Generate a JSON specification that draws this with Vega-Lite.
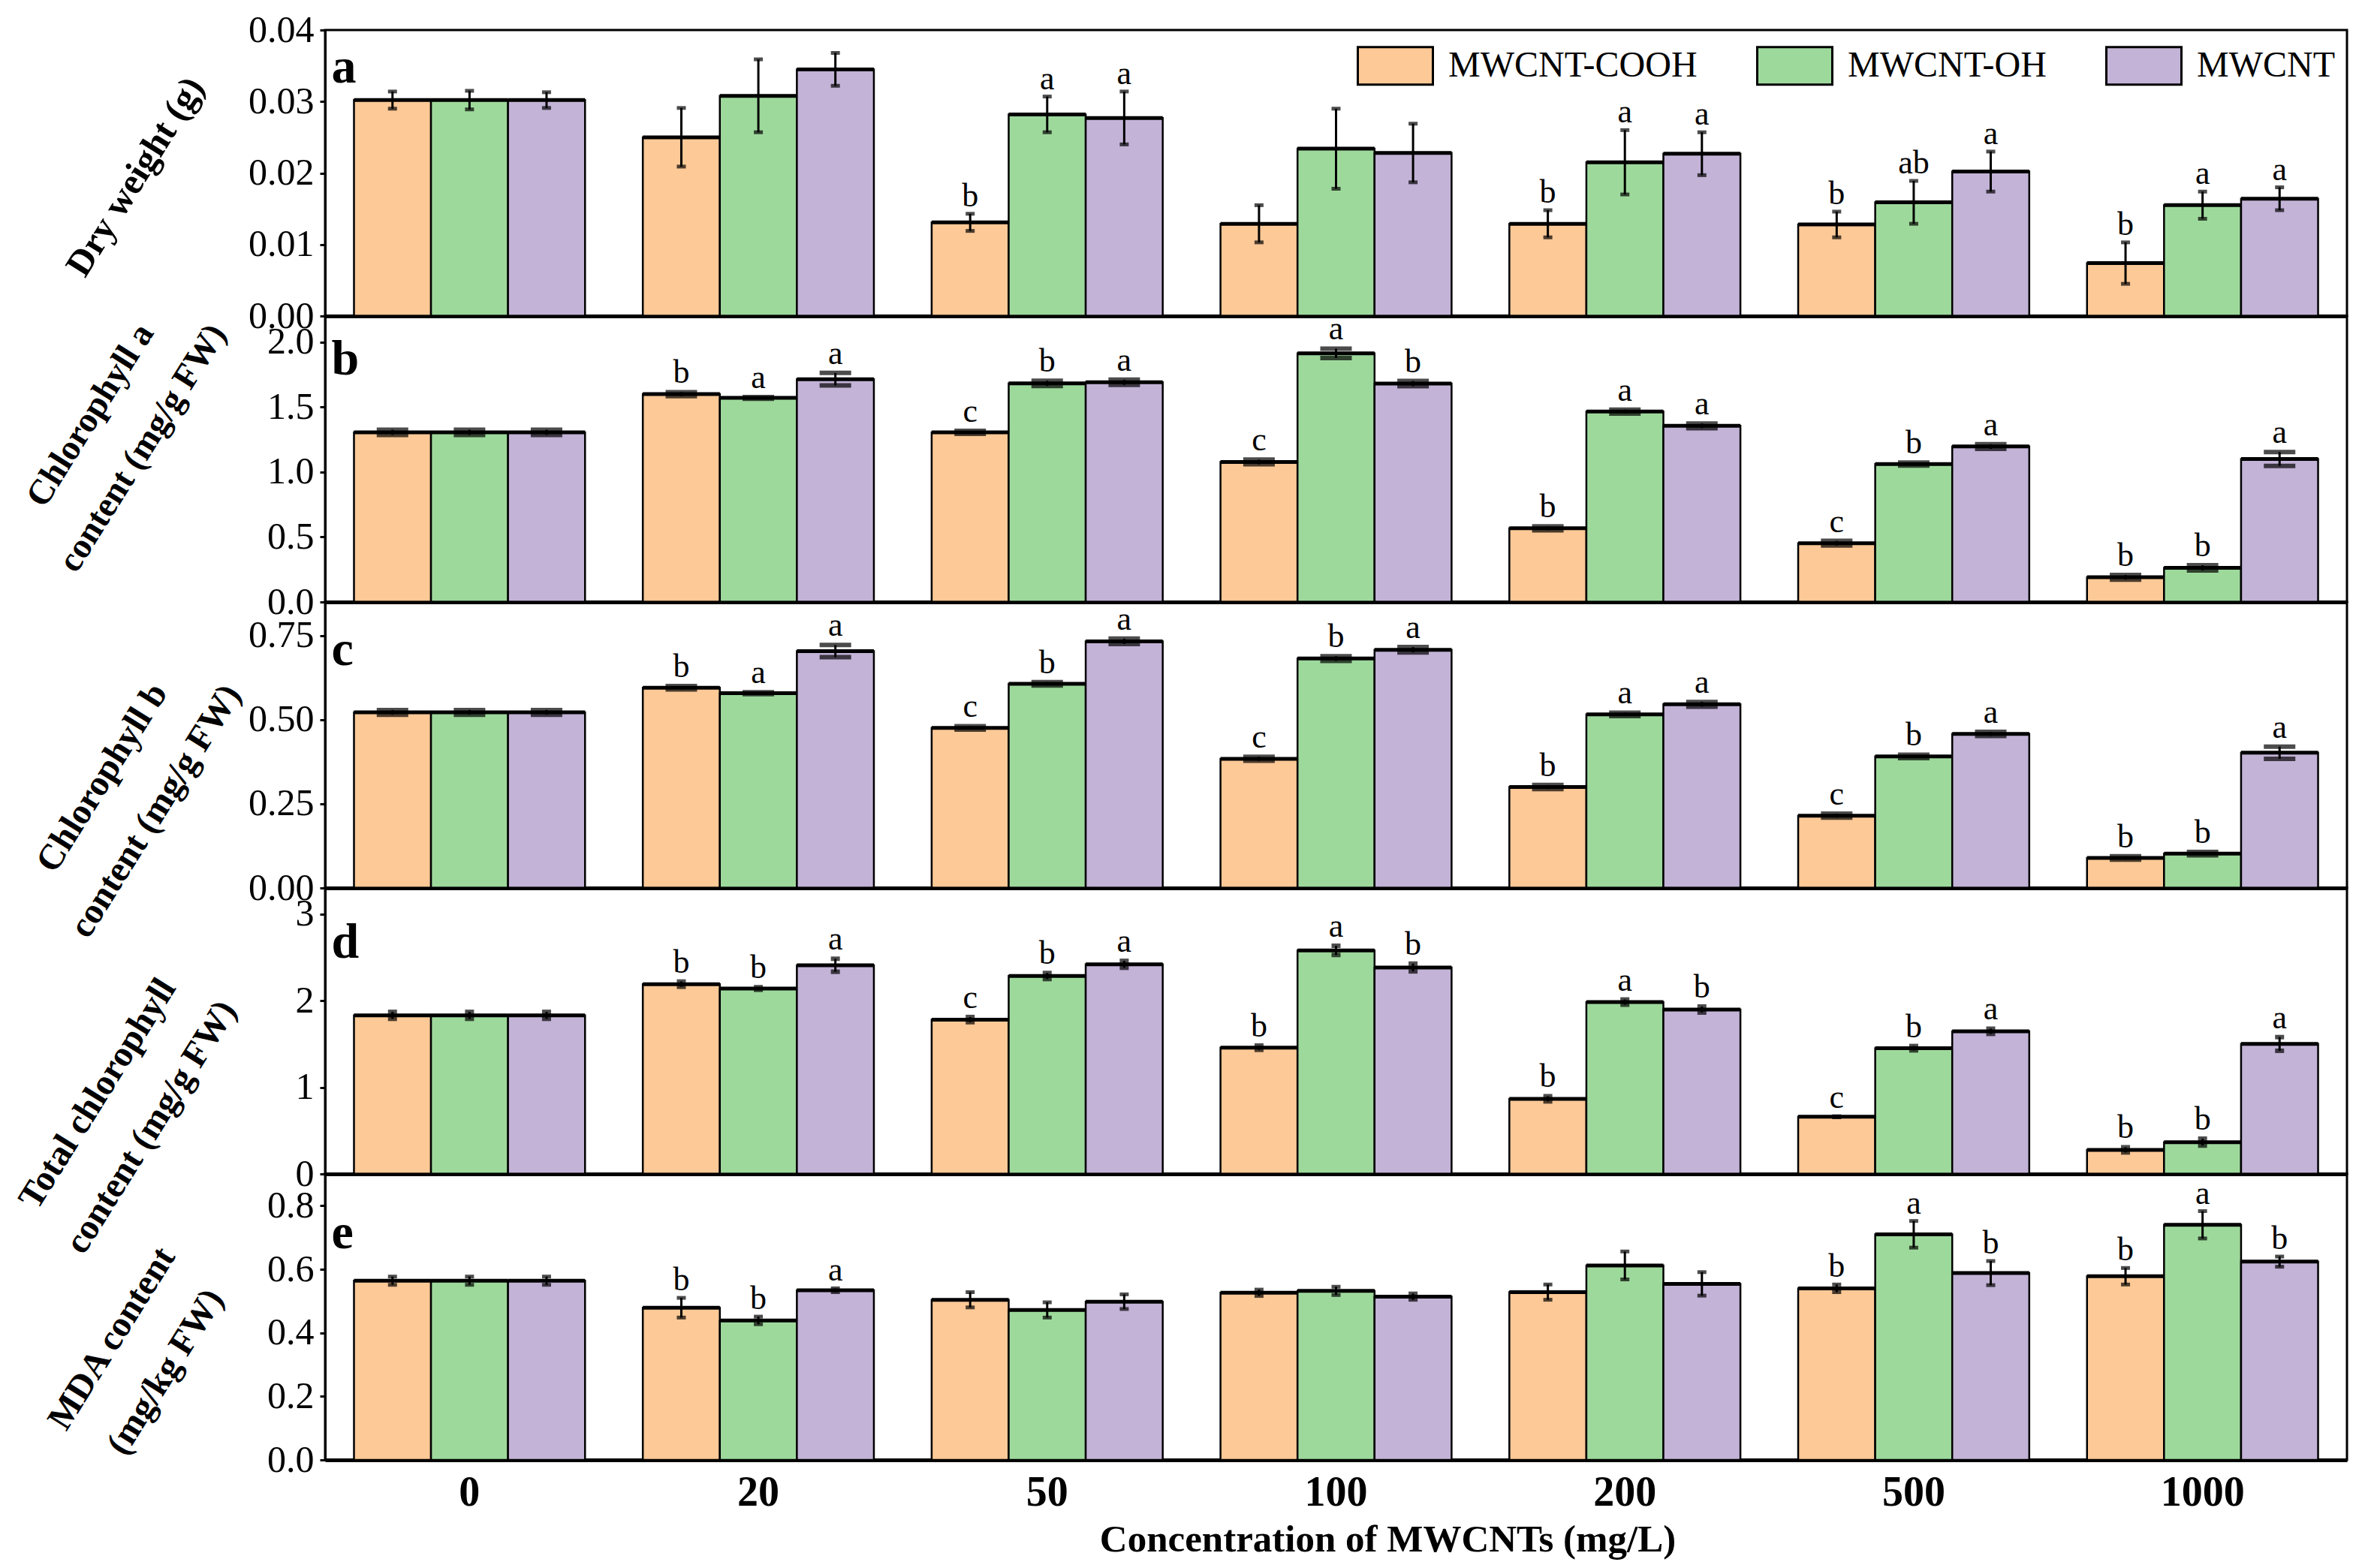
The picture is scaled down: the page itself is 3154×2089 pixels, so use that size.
{
  "$schema": "https://vega.github.io/schema/vega-lite/v6.json",
  "background": "white",
  "autosize": {"type": "none"},
  "padding": {"left": 433, "top": 40, "right": 2721, "bottom": 2049},
  "config": {
    "view": {"stroke": "black", "strokeWidth": 3},
    "axis": {"labelFont": "Liberation Serif", "labelColor": "black", "domainColor": "black", "tickColor": "black", "grid": false, "titleFont": "Liberation Serif", "titleFontWeight": "bold", "titleColor": "black"},
    "text": {"font": "Liberation Serif"}
  },
  "datasets": {
    "all": [
      {"p":"a","c":"0","t":"MWCNT-COOH","v":0.0302,"lo":0.0290,"hi":0.0314,"l":""},
      {"p":"a","c":"0","t":"MWCNT-OH","v":0.0302,"lo":0.0289,"hi":0.0315,"l":""},
      {"p":"a","c":"0","t":"MWCNT","v":0.0302,"lo":0.0291,"hi":0.0313,"l":""},
      {"p":"a","c":"20","t":"MWCNT-COOH","v":0.0250,"lo":0.0209,"hi":0.0291,"l":""},
      {"p":"a","c":"20","t":"MWCNT-OH","v":0.0308,"lo":0.0257,"hi":0.0359,"l":""},
      {"p":"a","c":"20","t":"MWCNT","v":0.0345,"lo":0.0322,"hi":0.0368,"l":""},
      {"p":"a","c":"50","t":"MWCNT-COOH","v":0.0131,"lo":0.0119,"hi":0.0143,"l":"b"},
      {"p":"a","c":"50","t":"MWCNT-OH","v":0.0282,"lo":0.0257,"hi":0.0307,"l":"a"},
      {"p":"a","c":"50","t":"MWCNT","v":0.0277,"lo":0.0240,"hi":0.0314,"l":"a"},
      {"p":"a","c":"100","t":"MWCNT-COOH","v":0.0129,"lo":0.0103,"hi":0.0155,"l":""},
      {"p":"a","c":"100","t":"MWCNT-OH","v":0.0234,"lo":0.0178,"hi":0.0290,"l":""},
      {"p":"a","c":"100","t":"MWCNT","v":0.0228,"lo":0.0187,"hi":0.0269,"l":""},
      {"p":"a","c":"200","t":"MWCNT-COOH","v":0.0129,"lo":0.0110,"hi":0.0148,"l":"b"},
      {"p":"a","c":"200","t":"MWCNT-OH","v":0.0215,"lo":0.0170,"hi":0.0260,"l":"a"},
      {"p":"a","c":"200","t":"MWCNT","v":0.0227,"lo":0.0197,"hi":0.0257,"l":"a"},
      {"p":"a","c":"500","t":"MWCNT-COOH","v":0.0128,"lo":0.0110,"hi":0.0146,"l":"b"},
      {"p":"a","c":"500","t":"MWCNT-OH","v":0.0159,"lo":0.0129,"hi":0.0189,"l":"ab"},
      {"p":"a","c":"500","t":"MWCNT","v":0.0202,"lo":0.0174,"hi":0.0230,"l":"a"},
      {"p":"a","c":"1000","t":"MWCNT-COOH","v":0.0074,"lo":0.0045,"hi":0.0103,"l":"b"},
      {"p":"a","c":"1000","t":"MWCNT-OH","v":0.0155,"lo":0.0136,"hi":0.0174,"l":"a"},
      {"p":"a","c":"1000","t":"MWCNT","v":0.0164,"lo":0.0148,"hi":0.0180,"l":"a"},

      {"p":"b","c":"0","t":"MWCNT-COOH","v":1.305,"lo":1.285,"hi":1.325,"l":""},
      {"p":"b","c":"0","t":"MWCNT-OH","v":1.305,"lo":1.285,"hi":1.325,"l":""},
      {"p":"b","c":"0","t":"MWCNT","v":1.305,"lo":1.285,"hi":1.325,"l":""},
      {"p":"b","c":"20","t":"MWCNT-COOH","v":1.599,"lo":1.584,"hi":1.614,"l":"b"},
      {"p":"b","c":"20","t":"MWCNT-OH","v":1.570,"lo":1.564,"hi":1.576,"l":"a"},
      {"p":"b","c":"20","t":"MWCNT","v":1.714,"lo":1.666,"hi":1.762,"l":"a"},
      {"p":"b","c":"50","t":"MWCNT-COOH","v":1.305,"lo":1.293,"hi":1.317,"l":"c"},
      {"p":"b","c":"50","t":"MWCNT-OH","v":1.682,"lo":1.662,"hi":1.702,"l":"b"},
      {"p":"b","c":"50","t":"MWCNT","v":1.690,"lo":1.670,"hi":1.710,"l":"a"},
      {"p":"b","c":"100","t":"MWCNT-COOH","v":1.077,"lo":1.059,"hi":1.095,"l":"c"},
      {"p":"b","c":"100","t":"MWCNT-OH","v":1.913,"lo":1.877,"hi":1.949,"l":"a"},
      {"p":"b","c":"100","t":"MWCNT","v":1.680,"lo":1.660,"hi":1.700,"l":"b"},
      {"p":"b","c":"200","t":"MWCNT-COOH","v":0.567,"lo":0.552,"hi":0.582,"l":"b"},
      {"p":"b","c":"200","t":"MWCNT-OH","v":1.465,"lo":1.450,"hi":1.480,"l":"a"},
      {"p":"b","c":"200","t":"MWCNT","v":1.355,"lo":1.337,"hi":1.373,"l":"a"},
      {"p":"b","c":"500","t":"MWCNT-COOH","v":0.452,"lo":0.434,"hi":0.470,"l":"c"},
      {"p":"b","c":"500","t":"MWCNT-OH","v":1.061,"lo":1.049,"hi":1.073,"l":"b"},
      {"p":"b","c":"500","t":"MWCNT","v":1.196,"lo":1.178,"hi":1.214,"l":"a"},
      {"p":"b","c":"1000","t":"MWCNT-COOH","v":0.190,"lo":0.172,"hi":0.208,"l":"b"},
      {"p":"b","c":"1000","t":"MWCNT-OH","v":0.263,"lo":0.243,"hi":0.283,"l":"b"},
      {"p":"b","c":"1000","t":"MWCNT","v":1.100,"lo":1.047,"hi":1.153,"l":"a"},

      {"p":"c","c":"0","t":"MWCNT-COOH","v":0.522,"lo":0.515,"hi":0.529,"l":""},
      {"p":"c","c":"0","t":"MWCNT-OH","v":0.522,"lo":0.515,"hi":0.529,"l":""},
      {"p":"c","c":"0","t":"MWCNT","v":0.522,"lo":0.515,"hi":0.529,"l":""},
      {"p":"c","c":"20","t":"MWCNT-COOH","v":0.595,"lo":0.590,"hi":0.600,"l":"b"},
      {"p":"c","c":"20","t":"MWCNT-OH","v":0.579,"lo":0.576,"hi":0.582,"l":"a"},
      {"p":"c","c":"20","t":"MWCNT","v":0.704,"lo":0.686,"hi":0.722,"l":"a"},
      {"p":"c","c":"50","t":"MWCNT-COOH","v":0.476,"lo":0.471,"hi":0.481,"l":"c"},
      {"p":"c","c":"50","t":"MWCNT-OH","v":0.607,"lo":0.602,"hi":0.612,"l":"b"},
      {"p":"c","c":"50","t":"MWCNT","v":0.733,"lo":0.725,"hi":0.741,"l":"a"},
      {"p":"c","c":"100","t":"MWCNT-COOH","v":0.384,"lo":0.378,"hi":0.390,"l":"c"},
      {"p":"c","c":"100","t":"MWCNT-OH","v":0.682,"lo":0.675,"hi":0.689,"l":"b"},
      {"p":"c","c":"100","t":"MWCNT","v":0.708,"lo":0.700,"hi":0.716,"l":"a"},
      {"p":"c","c":"200","t":"MWCNT-COOH","v":0.300,"lo":0.294,"hi":0.306,"l":"b"},
      {"p":"c","c":"200","t":"MWCNT-OH","v":0.516,"lo":0.511,"hi":0.521,"l":"a"},
      {"p":"c","c":"200","t":"MWCNT","v":0.546,"lo":0.539,"hi":0.553,"l":"a"},
      {"p":"c","c":"500","t":"MWCNT-COOH","v":0.215,"lo":0.209,"hi":0.221,"l":"c"},
      {"p":"c","c":"500","t":"MWCNT-OH","v":0.391,"lo":0.386,"hi":0.396,"l":"b"},
      {"p":"c","c":"500","t":"MWCNT","v":0.458,"lo":0.452,"hi":0.464,"l":"a"},
      {"p":"c","c":"1000","t":"MWCNT-COOH","v":0.089,"lo":0.084,"hi":0.094,"l":"b"},
      {"p":"c","c":"1000","t":"MWCNT-OH","v":0.102,"lo":0.097,"hi":0.107,"l":"b"},
      {"p":"c","c":"1000","t":"MWCNT","v":0.402,"lo":0.384,"hi":0.420,"l":"a"},

      {"p":"d","c":"0","t":"MWCNT-COOH","v":1.83,"lo":1.79,"hi":1.87,"l":""},
      {"p":"d","c":"0","t":"MWCNT-OH","v":1.83,"lo":1.79,"hi":1.87,"l":""},
      {"p":"d","c":"0","t":"MWCNT","v":1.83,"lo":1.79,"hi":1.87,"l":""},
      {"p":"d","c":"20","t":"MWCNT-COOH","v":2.19,"lo":2.16,"hi":2.22,"l":"b"},
      {"p":"d","c":"20","t":"MWCNT-OH","v":2.14,"lo":2.125,"hi":2.155,"l":"b"},
      {"p":"d","c":"20","t":"MWCNT","v":2.408,"lo":2.333,"hi":2.483,"l":"a"},
      {"p":"d","c":"50","t":"MWCNT-COOH","v":1.781,"lo":1.751,"hi":1.811,"l":"c"},
      {"p":"d","c":"50","t":"MWCNT-OH","v":2.284,"lo":2.249,"hi":2.319,"l":"b"},
      {"p":"d","c":"50","t":"MWCNT","v":2.419,"lo":2.379,"hi":2.459,"l":"a"},
      {"p":"d","c":"100","t":"MWCNT-COOH","v":1.457,"lo":1.432,"hi":1.482,"l":"b"},
      {"p":"d","c":"100","t":"MWCNT-OH","v":2.58,"lo":2.527,"hi":2.633,"l":"a"},
      {"p":"d","c":"100","t":"MWCNT","v":2.382,"lo":2.337,"hi":2.427,"l":"b"},
      {"p":"d","c":"200","t":"MWCNT-COOH","v":0.867,"lo":0.837,"hi":0.897,"l":"b"},
      {"p":"d","c":"200","t":"MWCNT-OH","v":1.983,"lo":1.953,"hi":2.013,"l":"a"},
      {"p":"d","c":"200","t":"MWCNT","v":1.897,"lo":1.862,"hi":1.932,"l":"b"},
      {"p":"d","c":"500","t":"MWCNT-COOH","v":0.66,"lo":0.66,"hi":0.66,"l":"c"},
      {"p":"d","c":"500","t":"MWCNT-OH","v":1.451,"lo":1.426,"hi":1.476,"l":"b"},
      {"p":"d","c":"500","t":"MWCNT","v":1.646,"lo":1.616,"hi":1.676,"l":"a"},
      {"p":"d","c":"1000","t":"MWCNT-COOH","v":0.278,"lo":0.248,"hi":0.308,"l":"b"},
      {"p":"d","c":"1000","t":"MWCNT-OH","v":0.367,"lo":0.327,"hi":0.407,"l":"b"},
      {"p":"d","c":"1000","t":"MWCNT","v":1.50,"lo":1.421,"hi":1.579,"l":"a"},

      {"p":"e","c":"0","t":"MWCNT-COOH","v":0.564,"lo":0.551,"hi":0.577,"l":""},
      {"p":"e","c":"0","t":"MWCNT-OH","v":0.564,"lo":0.551,"hi":0.577,"l":""},
      {"p":"e","c":"0","t":"MWCNT","v":0.564,"lo":0.551,"hi":0.577,"l":""},
      {"p":"e","c":"20","t":"MWCNT-COOH","v":0.479,"lo":0.448,"hi":0.510,"l":"b"},
      {"p":"e","c":"20","t":"MWCNT-OH","v":0.439,"lo":0.427,"hi":0.451,"l":"b"},
      {"p":"e","c":"20","t":"MWCNT","v":0.534,"lo":0.528,"hi":0.540,"l":"a"},
      {"p":"e","c":"50","t":"MWCNT-COOH","v":0.504,"lo":0.480,"hi":0.528,"l":""},
      {"p":"e","c":"50","t":"MWCNT-OH","v":0.472,"lo":0.448,"hi":0.496,"l":""},
      {"p":"e","c":"50","t":"MWCNT","v":0.498,"lo":0.475,"hi":0.521,"l":""},
      {"p":"e","c":"100","t":"MWCNT-COOH","v":0.526,"lo":0.516,"hi":0.536,"l":""},
      {"p":"e","c":"100","t":"MWCNT-OH","v":0.532,"lo":0.519,"hi":0.545,"l":""},
      {"p":"e","c":"100","t":"MWCNT","v":0.514,"lo":0.504,"hi":0.524,"l":""},
      {"p":"e","c":"200","t":"MWCNT-COOH","v":0.528,"lo":0.504,"hi":0.552,"l":""},
      {"p":"e","c":"200","t":"MWCNT-OH","v":0.612,"lo":0.568,"hi":0.656,"l":""},
      {"p":"e","c":"200","t":"MWCNT","v":0.554,"lo":0.517,"hi":0.591,"l":""},
      {"p":"e","c":"500","t":"MWCNT-COOH","v":0.540,"lo":0.528,"hi":0.552,"l":"b"},
      {"p":"e","c":"500","t":"MWCNT-OH","v":0.710,"lo":0.668,"hi":0.752,"l":"a"},
      {"p":"e","c":"500","t":"MWCNT","v":0.588,"lo":0.550,"hi":0.626,"l":"b"},
      {"p":"e","c":"1000","t":"MWCNT-COOH","v":0.578,"lo":0.552,"hi":0.604,"l":"b"},
      {"p":"e","c":"1000","t":"MWCNT-OH","v":0.740,"lo":0.697,"hi":0.783,"l":"a"},
      {"p":"e","c":"1000","t":"MWCNT","v":0.624,"lo":0.608,"hi":0.640,"l":"b"}
    ]
  },
  "data": {"name": "all"},
  "spacing": 0,
  "bounds": "flush",
  "vconcat": [
    {
      "width": 2693, "height": 381,
      "transform": [{"filter": "datum.p === 'a'"}],
      "encoding": {
        "x": {"field": "c", "type": "nominal", "sort": ["0","20","50","100","200","500","1000"], "scale": {"paddingInner": 0.2, "paddingOuter": 0.1}, "axis": {"labels": false, "ticks": false, "title": null, "domainWidth": 5}}
      },
      "layer": [
        {"mark": {"type": "bar", "stroke": "black", "strokeWidth": 2.5},
         "encoding": {
           "xOffset": {"field": "t", "type": "nominal", "sort": ["MWCNT-COOH","MWCNT-OH","MWCNT"], "scale": {"paddingInner": 0, "paddingOuter": 0}},
           "y": {"field": "v", "type": "quantitative", "scale": {"domain": [0, 0.04], "nice": false}, "axis": {"values": [0,0.01,0.02,0.03,0.04], "format": ".2f", "labelFontSize": 50, "tickSize": 7, "tickWidth": 3, "domainWidth": 3, "labelPadding": 8, "title": "Dry weight (g)", "titleFontSize": 49, "titleAngle": 302, "titleAlign": "center", "titleBaseline": "middle", "titleX": -253, "titleY": 195}},
           "color": {"field": "t", "type": "nominal", "sort": ["MWCNT-COOH","MWCNT-OH","MWCNT"], "scale": {"domain": ["MWCNT-COOH","MWCNT-OH","MWCNT"], "range": ["#FCC997","#9ED99C","#C3B3D7"]},
             "legend": {"orient": "none", "legendX": 1374, "legendY": -4, "direction": "horizontal", "title": null, "symbolType": "M-1,-0.5H1V0.5H-1Z", "symbolSize": 10000, "symbolStrokeColor": "black", "symbolStrokeWidth": 3, "symbolOpacity": 1, "labelFont": "Liberation Serif", "labelFontSize": 48, "labelColor": "black", "labelOffset": 19, "columnPadding": 73, "labelLimit": 1000, "padding": 0}}
         }},
        {"mark": {"type": "bar", "stroke": "black", "strokeWidth": 5, "fill": "black"}, "encoding": {"xOffset": {"field": "t", "type": "nominal", "sort": ["MWCNT-COOH","MWCNT-OH","MWCNT"]}, "y": {"field": "v", "type": "quantitative"}, "y2": {"field": "v"}}},
        {"mark": {"type": "rule", "color": "black", "strokeWidth": 3}, "encoding": {"xOffset": {"field": "t", "type": "nominal", "sort": ["MWCNT-COOH","MWCNT-OH","MWCNT"]}, "y": {"field": "lo", "type": "quantitative"}, "y2": {"field": "hi"}}},
        {"mark": {"type": "tick", "orient": "horizontal", "color": "black", "size": 12, "thickness": 5}, "encoding": {"xOffset": {"field": "t", "type": "nominal", "sort": ["MWCNT-COOH","MWCNT-OH","MWCNT"]}, "y": {"field": "lo", "type": "quantitative"}}},
        {"mark": {"type": "tick", "orient": "horizontal", "color": "black", "size": 12, "thickness": 5}, "encoding": {"xOffset": {"field": "t", "type": "nominal", "sort": ["MWCNT-COOH","MWCNT-OH","MWCNT"]}, "y": {"field": "hi", "type": "quantitative"}}},
        {"mark": {"type": "text", "baseline": "alphabetic", "dy": -10, "fontSize": 44, "color": "black"}, "encoding": {"xOffset": {"field": "t", "type": "nominal", "sort": ["MWCNT-COOH","MWCNT-OH","MWCNT"]}, "y": {"field": "hi", "type": "quantitative"}, "text": {"field": "l"}}},
        {"transform": [{"filter": "datum.c === '0' && datum.t === 'MWCNT-COOH'"}], "mark": {"type": "text", "text": "a", "align": "left", "baseline": "alphabetic", "dx": -30, "dy": 70, "fontSize": 66, "fontWeight": "bold", "color": "black"}, "encoding": {"x": {"datum": "0", "bandPosition": 0}, "y": {"datum": 0.04}}}
      ]
    },
    {
      "width": 2693, "height": 381,
      "transform": [{"filter": "datum.p === 'b'"}],
      "encoding": {
        "x": {"field": "c", "type": "nominal", "sort": ["0","20","50","100","200","500","1000"], "scale": {"paddingInner": 0.2, "paddingOuter": 0.1}, "axis": {"labels": false, "ticks": false, "title": null, "domainWidth": 5}}
      },
      "layer": [
        {"mark": {"type": "bar", "stroke": "black", "strokeWidth": 2.5},
         "encoding": {
           "xOffset": {"field": "t", "type": "nominal", "sort": ["MWCNT-COOH","MWCNT-OH","MWCNT"], "scale": {"paddingInner": 0, "paddingOuter": 0}},
           "y": {"field": "v", "type": "quantitative", "scale": {"domain": [0, 2.2], "nice": false}, "axis": {"values": [0,0.5,1,1.5,2], "format": ".1f", "labelFontSize": 50, "tickSize": 7, "tickWidth": 3, "domainWidth": 3, "labelPadding": 8, "title": ["Chlorophyll a", "content (mg/g FW)"], "titleFontSize": 47, "titleLineHeight": 82, "titleAngle": 302, "titleAlign": "center", "titleBaseline": "middle", "titleX": -313, "titleY": 132}},
           "color": {"field": "t", "type": "nominal", "sort": ["MWCNT-COOH","MWCNT-OH","MWCNT"]}
         }},
        {"mark": {"type": "bar", "stroke": "black", "strokeWidth": 5, "fill": "black"}, "encoding": {"xOffset": {"field": "t", "type": "nominal", "sort": ["MWCNT-COOH","MWCNT-OH","MWCNT"]}, "y": {"field": "v", "type": "quantitative"}, "y2": {"field": "v"}}},
        {"mark": {"type": "rule", "color": "black", "strokeWidth": 3}, "encoding": {"xOffset": {"field": "t", "type": "nominal", "sort": ["MWCNT-COOH","MWCNT-OH","MWCNT"]}, "y": {"field": "lo", "type": "quantitative"}, "y2": {"field": "hi"}}},
        {"mark": {"type": "tick", "orient": "horizontal", "color": "black", "size": 42, "thickness": 6}, "encoding": {"xOffset": {"field": "t", "type": "nominal", "sort": ["MWCNT-COOH","MWCNT-OH","MWCNT"]}, "y": {"field": "lo", "type": "quantitative"}}},
        {"mark": {"type": "tick", "orient": "horizontal", "color": "black", "size": 42, "thickness": 6}, "encoding": {"xOffset": {"field": "t", "type": "nominal", "sort": ["MWCNT-COOH","MWCNT-OH","MWCNT"]}, "y": {"field": "hi", "type": "quantitative"}}},
        {"mark": {"type": "text", "baseline": "alphabetic", "dy": -12, "fontSize": 44, "color": "black"}, "encoding": {"xOffset": {"field": "t", "type": "nominal", "sort": ["MWCNT-COOH","MWCNT-OH","MWCNT"]}, "y": {"field": "hi", "type": "quantitative"}, "text": {"field": "l"}}},
        {"transform": [{"filter": "datum.c === '0' && datum.t === 'MWCNT-COOH'"}], "mark": {"type": "text", "text": "b", "align": "left", "baseline": "alphabetic", "dx": -30, "dy": 78, "fontSize": 66, "fontWeight": "bold", "color": "black"}, "encoding": {"x": {"datum": "0", "bandPosition": 0}, "y": {"datum": 2.2}}}
      ]
    },
    {
      "width": 2693, "height": 381,
      "transform": [{"filter": "datum.p === 'c'"}],
      "encoding": {
        "x": {"field": "c", "type": "nominal", "sort": ["0","20","50","100","200","500","1000"], "scale": {"paddingInner": 0.2, "paddingOuter": 0.1}, "axis": {"labels": false, "ticks": false, "title": null, "domainWidth": 5}}
      },
      "layer": [
        {"mark": {"type": "bar", "stroke": "black", "strokeWidth": 2.5},
         "encoding": {
           "xOffset": {"field": "t", "type": "nominal", "sort": ["MWCNT-COOH","MWCNT-OH","MWCNT"], "scale": {"paddingInner": 0, "paddingOuter": 0}},
           "y": {"field": "v", "type": "quantitative", "scale": {"domain": [0, 0.85], "nice": false}, "axis": {"values": [0,0.25,0.5,0.75], "format": ".2f", "labelFontSize": 50, "tickSize": 7, "tickWidth": 3, "domainWidth": 3, "labelPadding": 8, "title": ["Chlorophyll b", "content (mg/g FW)"], "titleFontSize": 48, "titleLineHeight": 84, "titleAngle": 302, "titleAlign": "center", "titleBaseline": "middle", "titleX": -297, "titleY": 234}},
           "color": {"field": "t", "type": "nominal", "sort": ["MWCNT-COOH","MWCNT-OH","MWCNT"]}
         }},
        {"mark": {"type": "bar", "stroke": "black", "strokeWidth": 5, "fill": "black"}, "encoding": {"xOffset": {"field": "t", "type": "nominal", "sort": ["MWCNT-COOH","MWCNT-OH","MWCNT"]}, "y": {"field": "v", "type": "quantitative"}, "y2": {"field": "v"}}},
        {"mark": {"type": "rule", "color": "black", "strokeWidth": 3}, "encoding": {"xOffset": {"field": "t", "type": "nominal", "sort": ["MWCNT-COOH","MWCNT-OH","MWCNT"]}, "y": {"field": "lo", "type": "quantitative"}, "y2": {"field": "hi"}}},
        {"mark": {"type": "tick", "orient": "horizontal", "color": "black", "size": 42, "thickness": 6}, "encoding": {"xOffset": {"field": "t", "type": "nominal", "sort": ["MWCNT-COOH","MWCNT-OH","MWCNT"]}, "y": {"field": "lo", "type": "quantitative"}}},
        {"mark": {"type": "tick", "orient": "horizontal", "color": "black", "size": 42, "thickness": 6}, "encoding": {"xOffset": {"field": "t", "type": "nominal", "sort": ["MWCNT-COOH","MWCNT-OH","MWCNT"]}, "y": {"field": "hi", "type": "quantitative"}}},
        {"mark": {"type": "text", "baseline": "alphabetic", "dy": -12, "fontSize": 44, "color": "black"}, "encoding": {"xOffset": {"field": "t", "type": "nominal", "sort": ["MWCNT-COOH","MWCNT-OH","MWCNT"]}, "y": {"field": "hi", "type": "quantitative"}, "text": {"field": "l"}}},
        {"transform": [{"filter": "datum.c === '0' && datum.t === 'MWCNT-COOH'"}], "mark": {"type": "text", "text": "c", "align": "left", "baseline": "alphabetic", "dx": -30, "dy": 84, "fontSize": 66, "fontWeight": "bold", "color": "black"}, "encoding": {"x": {"datum": "0", "bandPosition": 0}, "y": {"datum": 0.85}}}
      ]
    },
    {
      "width": 2693, "height": 381,
      "transform": [{"filter": "datum.p === 'd'"}],
      "encoding": {
        "x": {"field": "c", "type": "nominal", "sort": ["0","20","50","100","200","500","1000"], "scale": {"paddingInner": 0.2, "paddingOuter": 0.1}, "axis": {"labels": false, "ticks": false, "title": null, "domainWidth": 5}}
      },
      "layer": [
        {"mark": {"type": "bar", "stroke": "black", "strokeWidth": 2.5},
         "encoding": {
           "xOffset": {"field": "t", "type": "nominal", "sort": ["MWCNT-COOH","MWCNT-OH","MWCNT"], "scale": {"paddingInner": 0, "paddingOuter": 0}},
           "y": {"field": "v", "type": "quantitative", "scale": {"domain": [0, 3.3], "nice": false}, "axis": {"values": [0,1,2,3], "format": "d", "labelFontSize": 50, "tickSize": 7, "tickWidth": 3, "domainWidth": 3, "labelPadding": 8, "title": ["Total chlorophyll", "content (mg/g FW)"], "titleFontSize": 48, "titleLineHeight": 84, "titleAngle": 302, "titleAlign": "center", "titleBaseline": "middle", "titleX": -303, "titleY": 274}},
           "color": {"field": "t", "type": "nominal", "sort": ["MWCNT-COOH","MWCNT-OH","MWCNT"]}
         }},
        {"mark": {"type": "bar", "stroke": "black", "strokeWidth": 5, "fill": "black"}, "encoding": {"xOffset": {"field": "t", "type": "nominal", "sort": ["MWCNT-COOH","MWCNT-OH","MWCNT"]}, "y": {"field": "v", "type": "quantitative"}, "y2": {"field": "v"}}},
        {"mark": {"type": "rule", "color": "black", "strokeWidth": 3}, "encoding": {"xOffset": {"field": "t", "type": "nominal", "sort": ["MWCNT-COOH","MWCNT-OH","MWCNT"]}, "y": {"field": "lo", "type": "quantitative"}, "y2": {"field": "hi"}}},
        {"mark": {"type": "tick", "orient": "horizontal", "color": "black", "size": 12, "thickness": 6}, "encoding": {"xOffset": {"field": "t", "type": "nominal", "sort": ["MWCNT-COOH","MWCNT-OH","MWCNT"]}, "y": {"field": "lo", "type": "quantitative"}}},
        {"mark": {"type": "tick", "orient": "horizontal", "color": "black", "size": 12, "thickness": 6}, "encoding": {"xOffset": {"field": "t", "type": "nominal", "sort": ["MWCNT-COOH","MWCNT-OH","MWCNT"]}, "y": {"field": "hi", "type": "quantitative"}}},
        {"mark": {"type": "text", "baseline": "alphabetic", "dy": -12, "fontSize": 44, "color": "black"}, "encoding": {"xOffset": {"field": "t", "type": "nominal", "sort": ["MWCNT-COOH","MWCNT-OH","MWCNT"]}, "y": {"field": "hi", "type": "quantitative"}, "text": {"field": "l"}}},
        {"transform": [{"filter": "datum.c === '0' && datum.t === 'MWCNT-COOH'"}], "mark": {"type": "text", "text": "d", "align": "left", "baseline": "alphabetic", "dx": -30, "dy": 93, "fontSize": 66, "fontWeight": "bold", "color": "black"}, "encoding": {"x": {"datum": "0", "bandPosition": 0}, "y": {"datum": 3.3}}}
      ]
    },
    {
      "width": 2693, "height": 381,
      "transform": [{"filter": "datum.p === 'e'"}],
      "encoding": {
        "x": {"field": "c", "type": "nominal", "sort": ["0","20","50","100","200","500","1000"], "scale": {"paddingInner": 0.2, "paddingOuter": 0.1}, "axis": {"labels": true, "labelAngle": 0, "labelFontSize": 56, "labelFontWeight": "bold", "labelPadding": 16, "ticks": false, "domainWidth": 5, "title": "Concentration of MWCNTs (mg/L)", "titleFontSize": 51, "titleX": 1415, "titleY": 106, "titleAlign": "center", "titleBaseline": "middle"}}
      },
      "layer": [
        {"mark": {"type": "bar", "stroke": "black", "strokeWidth": 2.5},
         "encoding": {
           "xOffset": {"field": "t", "type": "nominal", "sort": ["MWCNT-COOH","MWCNT-OH","MWCNT"], "scale": {"paddingInner": 0, "paddingOuter": 0}},
           "y": {"field": "v", "type": "quantitative", "scale": {"domain": [0, 0.9], "nice": false}, "axis": {"values": [0,0.2,0.4,0.6,0.8], "format": ".1f", "labelFontSize": 50, "tickSize": 7, "tickWidth": 3, "domainWidth": 3, "labelPadding": 8, "title": ["MDA content", "(mg/kg FW)"], "titleFontSize": 48, "titleLineHeight": 84, "titleAngle": 302, "titleAlign": "center", "titleBaseline": "middle", "titleX": -284, "titleY": 219}},
           "color": {"field": "t", "type": "nominal", "sort": ["MWCNT-COOH","MWCNT-OH","MWCNT"]}
         }},
        {"mark": {"type": "bar", "stroke": "black", "strokeWidth": 5, "fill": "black"}, "encoding": {"xOffset": {"field": "t", "type": "nominal", "sort": ["MWCNT-COOH","MWCNT-OH","MWCNT"]}, "y": {"field": "v", "type": "quantitative"}, "y2": {"field": "v"}}},
        {"mark": {"type": "rule", "color": "black", "strokeWidth": 3}, "encoding": {"xOffset": {"field": "t", "type": "nominal", "sort": ["MWCNT-COOH","MWCNT-OH","MWCNT"]}, "y": {"field": "lo", "type": "quantitative"}, "y2": {"field": "hi"}}},
        {"mark": {"type": "tick", "orient": "horizontal", "color": "black", "size": 12, "thickness": 5}, "encoding": {"xOffset": {"field": "t", "type": "nominal", "sort": ["MWCNT-COOH","MWCNT-OH","MWCNT"]}, "y": {"field": "lo", "type": "quantitative"}}},
        {"mark": {"type": "tick", "orient": "horizontal", "color": "black", "size": 12, "thickness": 5}, "encoding": {"xOffset": {"field": "t", "type": "nominal", "sort": ["MWCNT-COOH","MWCNT-OH","MWCNT"]}, "y": {"field": "hi", "type": "quantitative"}}},
        {"mark": {"type": "text", "baseline": "alphabetic", "dy": -10, "fontSize": 44, "color": "black"}, "encoding": {"xOffset": {"field": "t", "type": "nominal", "sort": ["MWCNT-COOH","MWCNT-OH","MWCNT"]}, "y": {"field": "hi", "type": "quantitative"}, "text": {"field": "l"}}},
        {"transform": [{"filter": "datum.c === '0' && datum.t === 'MWCNT-COOH'"}], "mark": {"type": "text", "text": "e", "align": "left", "baseline": "alphabetic", "dx": -30, "dy": 99, "fontSize": 66, "fontWeight": "bold", "color": "black"}, "encoding": {"x": {"datum": "0", "bandPosition": 0}, "y": {"datum": 0.9}}}
      ]
    }
  ]
}
